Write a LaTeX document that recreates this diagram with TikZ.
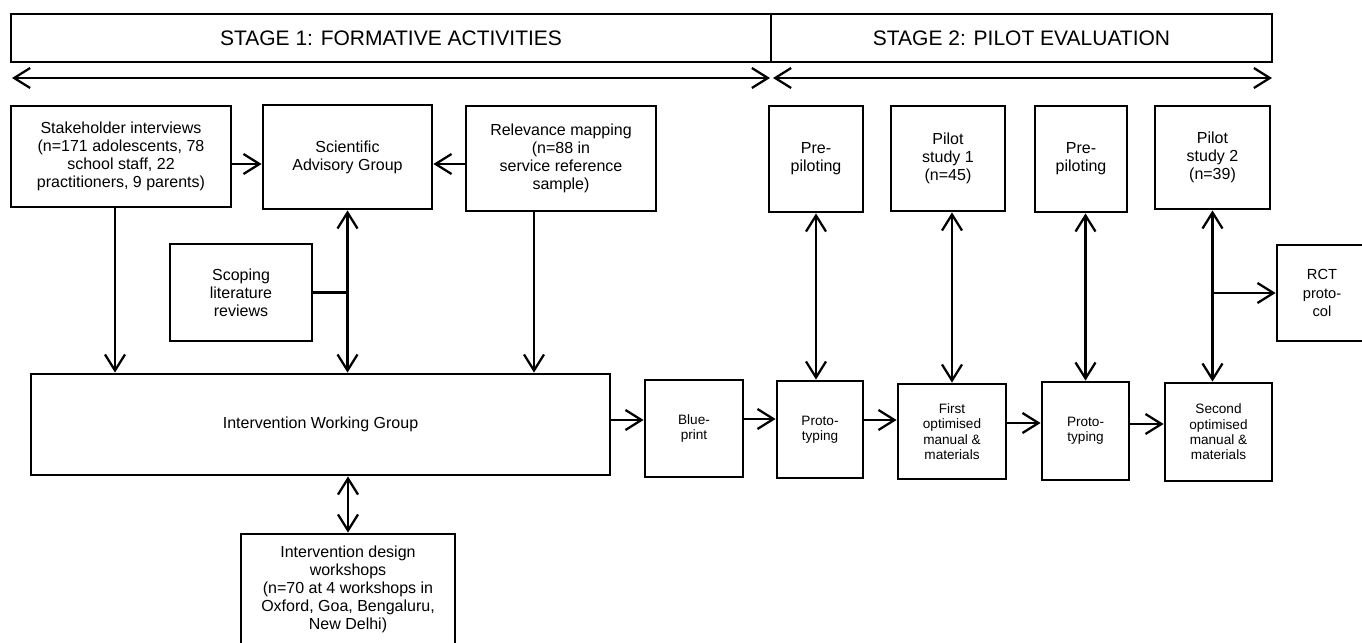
\documentclass[tikz,border=0pt]{standalone}
\usepackage{fontspec}
\setmainfont{Liberation Sans}
\usetikzlibrary{arrows.meta}
\tikzset{
  wh/.style 2 args={minimum width=#1*0.75pt, minimum height=#2*0.75pt},
  box/.style={draw, line width=2.1pt, inner sep=0pt, align=center, font=\fontsize{12}{13.5}\selectfont},
  sbox/.style={box, font=\fontsize{10.2}{11.5}\selectfont},
  rbox/.style={box, font=\fontsize{11}{14}\selectfont},
  head/.style={box, font=\fontsize{15.75}{18}\selectfont},
  tip/.tip={Straight Barb[length=12pt,width=15pt]},
  arr/.style={line width=1.7pt, -tip},
  darr/.style={line width=1.7pt, tip-tip},
  plain/.style={line width=1.7pt},
}
\begin{document}
\begin{tikzpicture}[x=0.75pt, y=-0.75pt]
\useasboundingbox (0,0) rectangle (1362,642);

% stage headers
\node[head, wh={760}{48}] (stage1) at (391,38) {STAGE 1: FORMATIVE ACTIVITIES};
\node[head, wh={501}{48}] (stage2) at (1021.5,38) {STAGE 2: PILOT EVALUATION};
\coordinate (l1) at (12,78);
\coordinate (l2) at (770,78);
\coordinate (r1) at (773,78);
\coordinate (r2) at (1272,78);
\draw[darr] (l1) -- (l2);
\draw[darr] (r1) -- (r2);

% stage 1 nodes
\node[box, wh={220}{101}] (stake) at (121,156.5) {Stakeholder interviews\\(n=171 adolescents, 78\\school staff, 22\\practitioners, 9 parents)};
\node[box, wh={169}{104}] (sag) at (347.5,157) {Scientific\\Advisory Group};
\node[box, wh={190}{105}] (rel) at (561,158.5) {Relevance mapping\\(n=88 in\\service reference\\sample)};
\node[box, wh={142}{97}] (scope) at (241,292.5) {Scoping\\literature\\reviews};
\node[box, wh={579}{101}] (iwg) at (320.5,424.5) {Intervention Working Group};
\node[box, wh={214}{110}] (work) at (348,589) {Intervention design\\workshops\\(n=70 at 4 workshops in\\Oxford, Goa, Bengaluru,\\New Delhi)};

% stage 2 top row
\node[box, wh={94}{106}] (pre1) at (816,159) {Pre-\\piloting};
\node[box, wh={114}{105}] (pilot1) at (948,158.5) {Pilot\\study 1\\(n=45)};
\node[box, wh={92}{106}] (pre2) at (1081,159) {Pre-\\piloting};
\node[box, wh={115}{103}] (pilot2) at (1212.5,157.5) {Pilot\\study 2\\(n=39)};
\node[rbox, wh={90}{96}] (rct) at (1322,293) {RCT\\proto-\\col};

% bottom row
\node[sbox, wh={98}{97}] (blue) at (694,428.5) {Blue-\\print};
\node[sbox, wh={86}{97}] (proto1) at (820,429.5) {Proto-\\typing};
\node[sbox, wh={108}{95}] (first) at (952,431.5) {First\\optimised\\manual \&\\materials};
\node[sbox, wh={87}{98}] (proto2) at (1085.5,431) {Proto-\\typing};
\node[sbox, wh={107}{98}] (second) at (1218.5,432) {Second\\optimised\\manual \&\\materials};

% stage 1 connectors
\draw[arr] (stake.east |- 0,164) -- (sag.west |- 0,164);
\draw[arr] (rel.west |- 0,164) -- (sag.east |- 0,164);
\draw[darr] (sag.south) -- (sag.south |- iwg.north);
\draw[plain] (scope.east) -- (sag.south |- scope.east);
\draw[arr] (stake.south -| 115,0) -- (iwg.north -| 115,0);
\draw[arr] (rel.south -| 534,0) -- (iwg.north -| 534,0);
\draw[darr] (work.north |- iwg.south) -- (work.north);

% main flow
\draw[arr] (iwg.east |- 0,420) -- (blue.west |- 0,420);
\draw[arr] (blue.east |- 0,419) -- (proto1.west |- 0,419);
\draw[arr] (proto1.east |- 0,420) -- (first.west |- 0,420);
\draw[arr] (first.east |- 0,423) -- (proto2.west |- 0,423);
\draw[arr] (proto2.east |- 0,424) -- (second.west |- 0,424);

% stage 2 verticals
\draw[darr] (pre1.south) -- (pre1.south |- proto1.north);
\draw[darr] (first.north |- pilot1.south) -- (first.north);
\draw[darr] (proto2.north |- pre2.south) -- (proto2.north);
\draw[darr] (pilot2.south) -- (pilot2.south |- second.north);
\draw[arr] (pilot2.south |- rct.west) -- (rct.west);
\end{tikzpicture}
\end{document}
